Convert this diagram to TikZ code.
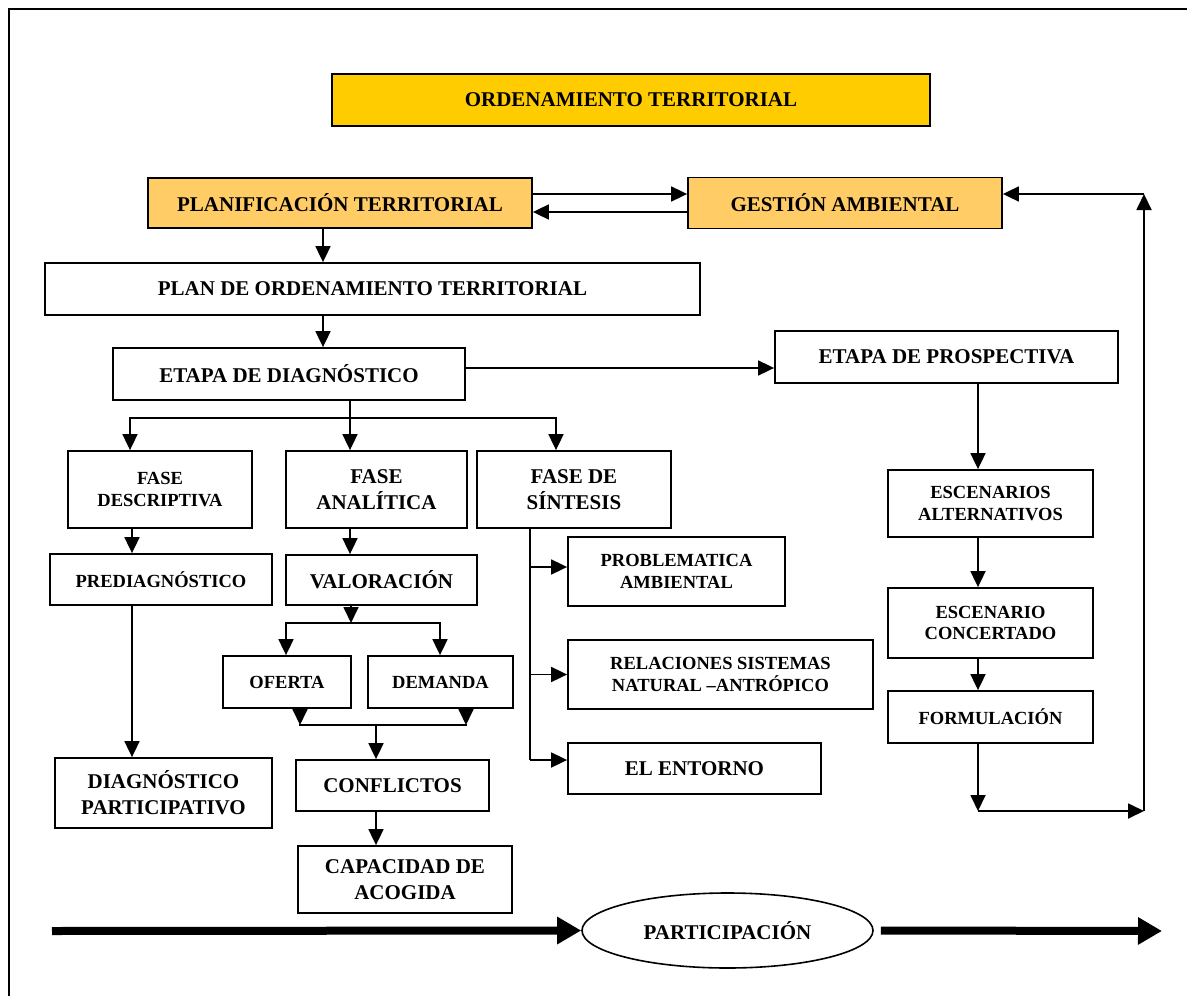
\documentclass[tikz,border=0pt]{standalone}
\usepackage{fontspec}
\setmainfont{Liberation Serif}
\usetikzlibrary{arrows.meta,shapes.geometric}
\definecolor{gold}{HTML}{FFCC00}
\definecolor{peach}{HTML}{FFCC66}
\begin{document}
\begin{tikzpicture}[x=1pt,y=-1pt,
  box/.style={draw, line width=1.8pt, inner sep=0pt, align=center,
    font=\bfseries\fontsize{21}{26}\selectfont},
  sbox/.style={box, font=\bfseries\fontsize{18.5}{21.5}\selectfont},
  conn/.style={line width=1.8pt},
  arr/.style={conn, -{Triangle[length=16pt,width=15pt]}},
  bigarrow/.style={line width=8pt, -{Triangle[length=24pt,width=26pt]}}]
\useasboundingbox (0,0) rectangle (1187,996);

% outer frame (open at right and bottom)
\draw[line width=2pt] (9,996) -- (9,9) -- (1187,9);

% boxes
\node[box, fill=gold, minimum width=598pt, minimum height=52pt] (ord) at (631,100) {ORDENAMIENTO TERRITORIAL};
\node[box, fill=peach, minimum width=384pt, minimum height=50pt] (plan) at (340,203) {PLANIFICACIÓN TERRITORIAL};
\node[box, fill=peach, minimum width=314pt, minimum height=51pt] (gest) at (845,203) {GESTIÓN AMBIENTAL};
\node[box, minimum width=655pt, minimum height=52pt] (pot) at (372.5,289) {PLAN DE ORDENAMIENTO TERRITORIAL};
\node[box, minimum width=352pt, minimum height=52pt] (diag) at (289,374) {ETAPA DE DIAGNÓSTICO};
\node[box, minimum width=343pt, minimum height=52pt] (prosp) at (946.5,357) {ETAPA DE PROSPECTIVA};
\node[sbox, minimum width=184pt, minimum height=77pt] (fdesc) at (160,489.5) {FASE\\DESCRIPTIVA};
\node[box, minimum width=181pt, minimum height=77pt] (fanal) at (376.5,489.5) {FASE\\ANALÍTICA};
\node[box, minimum width=194pt, minimum height=77pt] (fsint) at (574,489.5) {FASE DE\\SÍNTESIS};
\node[sbox, minimum width=222pt, minimum height=51pt] (prediag) at (161,579.5) {PREDIAGNÓSTICO};
\node[box, minimum width=191pt, minimum height=50pt] (valor) at (381.5,580) {VALORACIÓN};
\node[sbox, minimum width=128pt, minimum height=52pt] (ofer) at (287,682) {OFERTA};
\node[sbox, minimum width=145pt, minimum height=52pt] (dem) at (440.5,682) {DEMANDA};
\node[box, minimum width=193pt, minimum height=51pt] (confl) at (392.5,785.5) {CONFLICTOS};
\node[box, minimum width=214pt, minimum height=67pt] (capac) at (405,879.5) {CAPACIDAD DE\\ACOGIDA};
\node[box, minimum width=217pt, minimum height=70pt] (dpart) at (163.5,793) {DIAGNÓSTICO\\PARTICIPATIVO};
\node[sbox, minimum width=217pt, minimum height=69pt] (prob) at (676.5,571.5) {PROBLEMATICA\\AMBIENTAL};
\node[sbox, minimum width=305pt, minimum height=69pt] (rel) at (720.5,674.5) {RELACIONES SISTEMAS\\NATURAL –ANTRÓPICO};
\node[box, minimum width=253pt, minimum height=51pt] (ent) at (694.5,768.5) {EL ENTORNO};
\node[sbox, minimum width=205pt, minimum height=67pt] (esca) at (990.5,503.5) {ESCENARIOS\\ALTERNATIVOS};
\node[sbox, minimum width=205pt, minimum height=70pt] (escc) at (990.5,623) {ESCENARIO\\CONCERTADO};
\node[sbox, minimum width=205pt, minimum height=52pt] (form) at (990.5,717) {FORMULACIÓN};
\node[draw, ellipse, line width=1.6pt, minimum width=291pt, minimum height=75pt, inner sep=0pt,
  font=\bfseries\fontsize{21}{26}\selectfont] (part) at (727.5,930.5) {PARTICIPACIÓN};

% planning and environmental management
\draw[arr] ([yshift=9pt]plan.east) -- ([yshift=9pt]gest.west);
\draw[arr] ([yshift=-9pt]gest.west) -- ([yshift=-9pt]plan.east);

\coordinate (xa) at (323,0);
\draw[arr] (plan.south -| xa) -- (pot.north -| xa);
\draw[arr] (pot.south -| xa) -- (diag.north -| xa);

\coordinate (yb) at (0,368);
\draw[arr] (diag.east |- yb) -- (prosp.west |- yb);

% diagnosis phases
\coordinate (jc) at (350,418);
\coordinate (jl) at (130,418);
\coordinate (jr) at (556,418);
\draw[conn] (diag.south -| jc) -- (jc);
\draw[conn, line cap=rect] (jl) -- (jr);
\draw[arr] (jl) -- (fdesc.north -| jl);
\draw[arr] (jc) -- (fanal.north -| jc);
\draw[arr] (jr) -- (fsint.north -| jr);

\coordinate (xd) at (132,0);
\draw[arr] (fdesc.south -| xd) -- (prediag.north -| xd);
\draw[arr] (prediag.south -| xd) -- (dpart.north -| xd);

\draw[arr] (fanal.south -| jc) -- (valor.north -| jc);
\coordinate (vj) at (351,623);
\coordinate (vl) at (286,623);
\coordinate (vr) at (440,623);
\draw[arr] (valor.south -| vj) -- (vj);
\draw[conn, line cap=rect] (vl) -- (vr);
\draw[arr] (vl) -- (ofer.north -| vl);
\draw[arr] (vr) -- (dem.north -| vr);

\coordinate (ol) at (300,725);
\coordinate (or) at (466,725);
\coordinate (oj) at (376,725);
\draw[arr] (ofer.south -| ol) -- (ol);
\draw[arr] (dem.south -| or) -- (or);
\draw[conn, line cap=rect] (ol) -- (or);
\draw[arr] (oj) -- (confl.north -| oj);
\draw[arr] (confl.south -| oj) -- (capac.north -| oj);

\coordinate (sx) at (530,0);
\coordinate (sp) at (530,567);
\coordinate (sb) at (530,760);
\draw[conn] (fsint.south -| sx) -- (sb);
\draw[arr] (sp) -- (sp -| prob.west);
\draw[arr] (sx |- rel.west) -- (rel.west);
\draw[arr] (sb) -- (sb -| ent.west);

% prospective stage
\coordinate (xr) at (978,0);
\draw[arr] (prosp.south -| xr) -- (esca.north -| xr);
\draw[arr] (esca.south -| xr) -- (escc.north -| xr);
\draw[arr] (escc.south -| xr) -- (form.north -| xr);
\coordinate (f1) at (978,811);
\coordinate (f2) at (1144,811);
\coordinate (f3) at (1144,194);
\draw[arr] (form.south -| xr) -- (f1);
\draw[arr] (f1) -- (f2);
\draw[arr] (f2) -- (f3);
\draw[arr] (f3) -- (f3 -| gest.east);

% participation
\coordinate (p0) at (52,931);
\coordinate (p1) at (1162,931);
\draw[bigarrow] (p0) -- (part.west);
\draw[bigarrow] ([xshift=7pt]part.east) -- (p1);
\end{tikzpicture}
\end{document}
